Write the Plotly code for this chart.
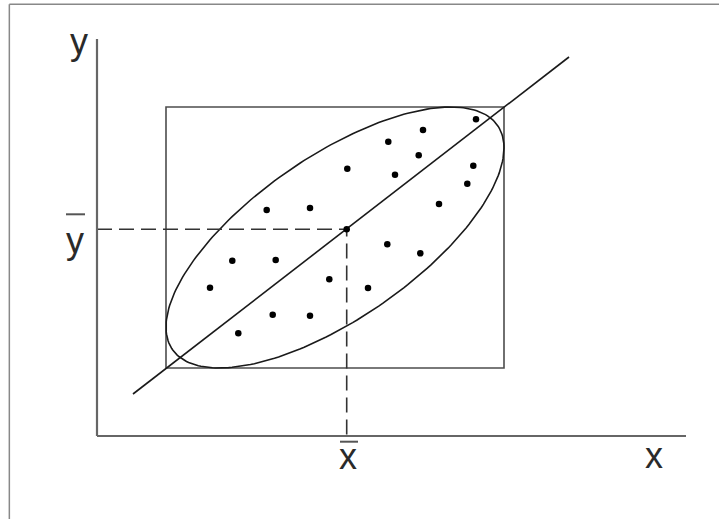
import numpy as np
import plotly.graph_objects as go

# sample points (x, y)
pts_x = [16.97, 21.3, 13.53, 17.87, 23.23, 11.3, 27.1, 17.57, 21.3, 14.13,
         37.9, 32.6, 29.13, 32.17, 37.63, 29.8, 37.03, 34.2, 29.03, 32.33, 25.03]
pts_y = [22.6, 22.8, 17.53, 17.6, 15.67, 14.83, 14.8, 12.13, 12.03, 10.27,
         31.67, 30.6, 29.43, 28.07, 27.03, 26.13, 25.23, 23.2, 19.17, 18.27, 26.73]

# means
mean_x = [24.97]
mean_y = [20.67]

# fitted line end points
fit_x = [3.6, 47.2]
fit_y = [4.2, 37.9]

# bounding box of the cloud
box_x = [6.9, 40.7]
box_y = [6.8, 32.9]

# ellipse: centre, half width, half height, phase shift (rad)
ell_centre = [23.8, 19.85]
ell_half = [16.9, 13.05]
ell_phase = 0.815

# axis extents
axis_x_end = 58.9
axis_y_end = 39.7

t = np.linspace(0, 2 * np.pi, 241)
ell_x = ell_centre[0] + ell_half[0] * np.cos(t)
ell_y = ell_centre[1] + ell_half[1] * np.cos(t + ell_phase)

fig = go.Figure()

fig.add_trace(go.Scatter(x=ell_x, y=ell_y, mode="lines",
                         line=dict(color="#1a1a1a", width=1.6), hoverinfo="skip"))
fig.add_trace(go.Scatter(x=fit_x, y=fit_y, mode="lines",
                         line=dict(color="#1a1a1a", width=1.6), hoverinfo="skip"))
fig.add_trace(go.Scatter(x=[0, mean_x[0], mean_x[0]], y=[mean_y[0], mean_y[0], 0],
                         mode="lines",
                         line=dict(color="#333333", width=1.6, dash="15px,7px"),
                         hoverinfo="skip"))
fig.add_trace(go.Scatter(x=pts_x + mean_x, y=pts_y + mean_y, mode="markers",
                         marker=dict(color="black", size=6.5, symbol="circle")))

# box
fig.add_shape(type="rect", x0=box_x[0], x1=box_x[1], y0=box_y[0], y1=box_y[1],
              line=dict(color="#4d4d4d", width=1.6), layer="below")
# axes
fig.add_shape(type="line", x0=0, y0=0, x1=axis_x_end, y1=0,
              line=dict(color="#666666", width=2.2))
fig.add_shape(type="line", x0=0, y0=0, x1=0, y1=axis_y_end,
              line=dict(color="#666666", width=2.2))
# bars over the mean labels
fig.add_shape(type="line", x0=-3.1, x1=-1.2, y0=22.17, y1=22.17,
              line=dict(color="#555555", width=2))
fig.add_shape(type="line", x0=24.3, x1=26.1, y0=-0.57, y1=-0.57,
              line=dict(color="#555555", width=2))
# picture frame (top and left only)
fig.add_shape(type="line", xref="paper", yref="paper", x0=0.013, x1=1.0,
              y0=0.992, y1=0.992, line=dict(color="#888888", width=1.5))
fig.add_shape(type="line", xref="paper", yref="paper", x0=0.013, x1=0.013,
              y0=0.0, y1=0.992, line=dict(color="#888888", width=1.5))

lab_font = dict(family="Liberation Sans", size=36, color="#2a2a2a")
labels = [("y", -1.8, 39.5), ("y", -2.2, 19.6), ("x", 25.1, -2.0), ("x", 55.7, -1.9)]
for txt, lx, ly in labels:
    fig.add_annotation(x=lx, y=ly, text=txt, showarrow=False, font=lab_font,
                       xanchor="center", yanchor="middle")

fig.update_layout(
    width=719, height=519,
    margin=dict(l=0, r=0, t=0, b=0),
    paper_bgcolor="white", plot_bgcolor="white",
    showlegend=False,
    xaxis=dict(range=[-9.7, 62.2], visible=False, fixedrange=True),
    yaxis=dict(range=[-8.3, 43.6], visible=False, fixedrange=True),
)

fig.write_html("out.html", config=dict(displayModeBar=False),
               post_script="document.body.style.margin = '0';")
